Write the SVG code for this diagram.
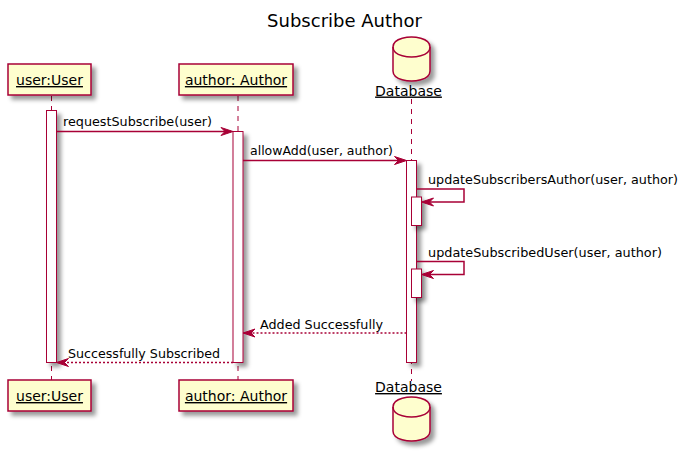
<svg xmlns="http://www.w3.org/2000/svg" width="690" height="453" viewBox="0 0 690 453">
<defs>
<filter id="sh" x="-1" y="-1" width="300%" height="300%">
<feGaussianBlur result="b" stdDeviation="2"/>
<feColorMatrix in="b" result="b2" type="matrix" values="0 0 0 0 0 0 0 0 0 0 0 0 0 0 0 0 0 0 .4 0"/>
<feOffset dx="4" dy="4" in="b2" result="b3"/>
<feBlend in="SourceGraphic" in2="b3" mode="normal"/>
</filter>
<path id="cyl" d="M0,10 C0,0 18.5,0 18.5,0 C18.5,0 37,0 37,10 L37,34 C37,44 18.5,44 18.5,44 C18.5,44 0,44 0,34 Z"/>
</defs>
<style>
text{font-family:"DejaVu Sans","Liberation Sans",sans-serif;fill:#000}
.t{font-size:18px}
.p{font-size:14px;text-decoration:underline}
.m{font-size:13px}
.box{fill:#FEFECE;stroke:#A80036;stroke-width:1.5}
.life{stroke:#A80036;stroke-width:1;stroke-dasharray:5,5;fill:none}
.act{fill:#FFFFFF;stroke:#A80036;stroke-width:1}
.msg{stroke:#A80036;stroke-width:1.5;fill:none}
.ret{stroke:#A80036;stroke-width:1.5;stroke-dasharray:2,2;fill:none}
.ah{fill:#A80036;stroke:#A80036;stroke-width:1}
</style>
<rect width="690" height="453" fill="#FFFFFF"/>
<text class="t" x="344.5" y="27" text-anchor="middle">Subscribe Author</text>

<g id="user">
<line class="life" x1="51.5" y1="96" x2="51.5" y2="380"/>
<rect class="box" filter="url(#sh)" x="8" y="64" width="83" height="31"/>
<text class="p" x="49.5" y="85" text-anchor="middle">user:User</text>
<rect class="box" filter="url(#sh)" x="8" y="380" width="83" height="31"/>
<text class="p" x="49.5" y="401" text-anchor="middle">user:User</text>
<rect class="act" filter="url(#sh)" x="46.5" y="110.5" width="10" height="252"/>
</g>

<g id="author">
<line class="life" x1="238" y1="96" x2="238" y2="380"/>
<rect class="box" filter="url(#sh)" x="179" y="64" width="114" height="31"/>
<text class="p" x="236" y="85" text-anchor="middle">author: Author</text>
<rect class="box" filter="url(#sh)" x="179" y="380" width="114" height="31"/>
<text class="p" x="236" y="401" text-anchor="middle">author: Author</text>
<rect class="act" filter="url(#sh)" x="233" y="131.5" width="10" height="231"/>
</g>

<g id="database">
<line class="life" x1="411.5" y1="99" x2="411.5" y2="381"/>
<g filter="url(#sh)">
<use href="#cyl" x="393" y="37" class="box"/>
</g>
<path d="M393,47 C393,57 411.5,57 411.5,57 C411.5,57 430,57 430,47" fill="none" stroke="#A80036" stroke-width="1.5"/>
<text class="p" x="408.5" y="95.5" text-anchor="middle">Database</text>
<text class="p" x="408.5" y="392" text-anchor="middle">Database</text>
<g filter="url(#sh)">
<use href="#cyl" x="393" y="397" class="box"/>
</g>
<path d="M393,407 C393,417 411.5,417 411.5,417 C411.5,417 430,417 430,407" fill="none" stroke="#A80036" stroke-width="1.5"/>
<rect class="act" filter="url(#sh)" x="406.5" y="160.5" width="10" height="202"/>
<rect class="act" filter="url(#sh)" x="411.5" y="197" width="10" height="28.5"/>
<rect class="act" filter="url(#sh)" x="411.5" y="269" width="10" height="28.5"/>
</g>

<g id="connectors">
<line class="msg" x1="56.5" y1="131.5" x2="231" y2="131.5"/>
<polygon class="ah" points="221,127.5 233,131.5 221,135.5 225,131.5"/>
<text class="m" x="63" y="126" textLength="149" lengthAdjust="spacingAndGlyphs">requestSubscribe(user)</text>

<line class="msg" x1="243" y1="160.5" x2="404.5" y2="160.5"/>
<polygon class="ah" points="394.5,156.5 406.5,160.5 394.5,164.5 398.5,160.5"/>
<text class="m" x="250" y="155" textLength="143" lengthAdjust="spacingAndGlyphs">allowAdd(user, author)</text>

<polyline class="msg" points="416.5,189 464,189 464,202 423.5,202"/>
<polygon class="ah" points="433.5,198 421.5,202 433.5,206 429.5,202"/>
<text class="m" x="428" y="184" textLength="250" lengthAdjust="spacingAndGlyphs">updateSubscribersAuthor(user, author)</text>

<polyline class="msg" points="416.5,261.5 464,261.5 464,274.5 423.5,274.5"/>
<polygon class="ah" points="433.5,270.5 421.5,274.5 433.5,278.5 429.5,274.5"/>
<text class="m" x="428" y="256.5" textLength="234" lengthAdjust="spacingAndGlyphs">updateSubscribedUser(user, author)</text>

<line class="ret" x1="406.5" y1="333" x2="245" y2="333"/>
<polygon class="ah" points="255,329 243,333 255,337 251,333"/>
<text class="m" x="260" y="329" textLength="123" lengthAdjust="spacingAndGlyphs">Added Successfully</text>

<line class="ret" x1="233" y1="362.5" x2="58.5" y2="362.5"/>
<polygon class="ah" points="68.5,358.5 56.5,362.5 68.5,366.5 64.5,362.5"/>
<text class="m" x="68" y="357.5" textLength="152" lengthAdjust="spacingAndGlyphs">Successfully Subscribed</text>
</g>
</svg>
